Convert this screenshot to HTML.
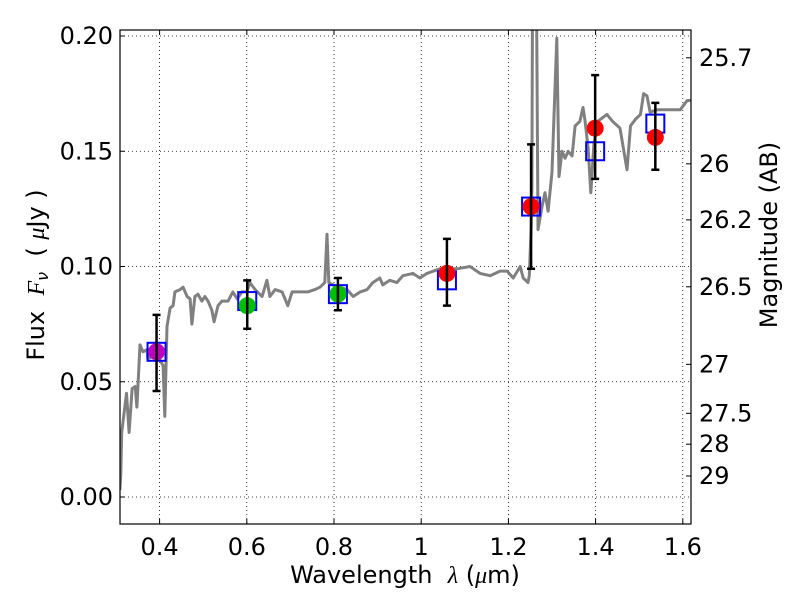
<!DOCTYPE html>
<html><head><meta charset="utf-8"><style>
body{margin:0;background:#fff}
svg text{font-family:"DejaVu Sans","Liberation Sans",sans-serif;fill:#000}
</style></head><body>
<svg width="800" height="600" xmlns="http://www.w3.org/2000/svg">
<defs><clipPath id="clip"><rect x="120" y="30" width="571" height="494"/></clipPath></defs>
<rect x="0" y="0" width="800" height="600" fill="#fff"/>
<g id="grid"></g>
<g id="spec" clip-path="url(#clip)"></g>
<g id="pts" clip-path="url(#clip)"></g>
<rect x="120" y="30" width="571" height="494" fill="none" stroke="#000" stroke-width="1.2"/>
<g id="axes"></g>
<text x="405" y="583" font-size="24" text-anchor="middle">Wavelength&#160;&#160;<tspan font-style="italic" font-family="Liberation Serif">λ</tspan> (<tspan font-style="italic" font-family="Liberation Serif">μ</tspan>m)</text>
<text transform="translate(44,275) rotate(-90)" font-size="24" text-anchor="middle">Flux&#160;&#160;<tspan font-style="italic" font-family="Liberation Serif">F</tspan><tspan font-style="italic" font-size="16" dy="4">ν</tspan><tspan dy="-4">&#160;&#160;(&#160;</tspan><tspan font-style="italic" font-family="Liberation Serif">μ</tspan>Jy )</text>
<text transform="translate(777,235) rotate(-90)" font-size="24" text-anchor="middle">Magnitude (AB)</text>
</svg>
<script>
const specLam=[0.309,0.311,0.313,0.324,0.330,0.337,0.344,0.348,0.355,0.362,0.371,0.373,0.383,0.396,0.408,0.412,0.417,0.424,0.431,0.435,0.447,0.454,0.463,0.470,0.474,0.481,0.488,0.497,0.504,0.511,0.520,0.525,0.534,0.543,0.557,0.568,0.578,0.589,0.600,0.607,0.619,0.635,0.646,0.653,0.665,0.681,0.694,0.704,0.727,0.740,0.756,0.768,0.779,0.784,0.788,0.798,0.830,0.844,0.860,0.876,0.889,0.905,0.912,0.928,0.944,0.958,0.981,0.997,1.013,1.043,1.082,1.112,1.135,1.158,1.181,1.197,1.211,1.227,1.234,1.245,1.248,1.252,1.254,1.256,1.263,1.268,1.277,1.284,1.291,1.300,1.311,1.316,1.323,1.330,1.337,1.346,1.353,1.364,1.371,1.376,1.383,1.389,1.396,1.405,1.426,1.439,1.456,1.472,1.480,1.492,1.503,1.510,1.518,1.525,1.541,1.564,1.594,1.610,1.624];
const specFlux=[0.003,0.010,0.028,0.045,0.028,0.047,0.048,0.039,0.066,0.063,0.064,0.060,0.061,0.061,0.057,0.035,0.074,0.082,0.083,0.089,0.090,0.091,0.087,0.086,0.075,0.087,0.088,0.085,0.087,0.085,0.081,0.076,0.083,0.085,0.085,0.089,0.086,0.089,0.089,0.093,0.090,0.087,0.094,0.087,0.090,0.089,0.083,0.089,0.089,0.089,0.090,0.091,0.093,0.114,0.093,0.092,0.090,0.087,0.089,0.090,0.093,0.095,0.092,0.094,0.093,0.096,0.097,0.095,0.097,0.099,0.099,0.100,0.097,0.096,0.098,0.098,0.095,0.100,0.095,0.093,0.096,0.116,0.135,0.26,0.26,0.116,0.126,0.132,0.124,0.141,0.199,0.139,0.150,0.147,0.150,0.148,0.161,0.163,0.169,0.163,0.151,0.132,0.153,0.163,0.166,0.163,0.160,0.142,0.161,0.164,0.166,0.175,0.174,0.167,0.168,0.168,0.168,0.172,0.172];
const ptLam=[0.393,0.601,0.809,1.059,1.252,1.399,1.537];
const ptFlux=[0.063,0.083,0.088,0.097,0.126,0.160,0.156];
const boxFlux=[0.063,0.085,0.088,0.094,0.126,0.150,0.162];
const errLo=[0.046,0.073,0.081,0.083,0.099,0.138,0.142];
const errHi=[0.079,0.094,0.095,0.112,0.153,0.183,0.171];
const ptColor=['#bf00bf','#00bf00','#00bf00','#ff0000','#ff0000','#ff0000','#ff0000'];
const xTicks=[0.4,0.6,0.8,1.0,1.2,1.4,1.6];
const xTickLabels=['0.4','0.6','0.8','1','1.2','1.4','1.6'];
const yTicks=[0,0.05,0.10,0.15,0.20];
const yTickLabels=['0.00','0.05','0.10','0.15','0.20'];
const magTicks=[25.7,26,26.2,26.5,27,27.5,28,29];
const magTickLabels=['25.7','26','26.2','26.5','27','27.5','28','29'];

const X=l=>159.6+(l-0.4)*436;
const Y=f=>497-f*2305;
const NS='http://www.w3.org/2000/svg';
function mk(tag,attrs,parent){const e=document.createElementNS(NS,tag);for(const k in attrs)e.setAttribute(k,attrs[k]);parent.appendChild(e);return e;}
const grid=document.getElementById('grid'),axes=document.getElementById('axes'),spec=document.getElementById('spec'),pts=document.getElementById('pts');

xTicks.forEach((t,i)=>{const x=X(t);
 let g=mk('line',{x1:x,x2:x,y1:30,y2:524,stroke:'#000','stroke-width':0.8,'stroke-dasharray':'1,3'},grid);
 
 let a=mk('line',{x1:x,x2:x,y1:524,y2:519,stroke:'#000'},axes);
 
 let b=mk('line',{x1:x,x2:x,y1:30,y2:35,stroke:'#000'},axes);
 
 let tx=mk('text',{x:x,y:555,'font-size':24,'text-anchor':'middle'},axes);tx.textContent=xTickLabels[i];
 
});
yTicks.forEach((t,i)=>{const y=Y(t);
 let g=mk('line',{x1:120,x2:691,y1:y,y2:y,stroke:'#000','stroke-width':0.8,'stroke-dasharray':'1,3'},grid);
 
 let a=mk('line',{x1:120,x2:125,y1:y,y2:y,stroke:'#000'},axes);
 
 let tx=mk('text',{x:113,y:y+8,'font-size':24,'text-anchor':'end'},axes);tx.textContent=yTickLabels[i];
 
});
magTicks.forEach((m,i)=>{const f=Math.pow(10,(23.9-m)/2.5);const y=Y(f);
 let a=mk('line',{x1:686,x2:691,y1:y,y2:y,stroke:'#000'},axes);
 
 let tx=mk('text',{x:699,y:y+8,'font-size':24},axes);tx.textContent=magTickLabels[i];
 
});
let d=specLam.map((l,i)=>(i?'L':'M')+X(l).toFixed(1)+','+Y(specFlux[i]).toFixed(1)).join(' ');
let sp=mk('path',{d:d,fill:'none',stroke:'#808080','stroke-width':3,'stroke-linejoin':'round'},spec);


ptLam.forEach((l,i)=>{const x=X(l);
 let b=mk('rect',{x:x-9,y:Y(boxFlux[i])-9,width:18,height:18,fill:'none',stroke:'#0000ff','stroke-width':2},pts);
 
 let c=mk('circle',{cx:x,cy:Y(ptFlux[i]),r:8.5,fill:ptColor[i]},pts);
 
 const y1=Y(errLo[i]),y2=Y(errHi[i]);
 let e=mk('path',{d:`M${x},${y1}L${x},${y2}M${x-4},${y1}L${x+4},${y1}M${x-4},${y2}L${x+4},${y2}`,stroke:'#000','stroke-width':2.5,fill:'none'},pts);
 
});
</script>
</body></html>
